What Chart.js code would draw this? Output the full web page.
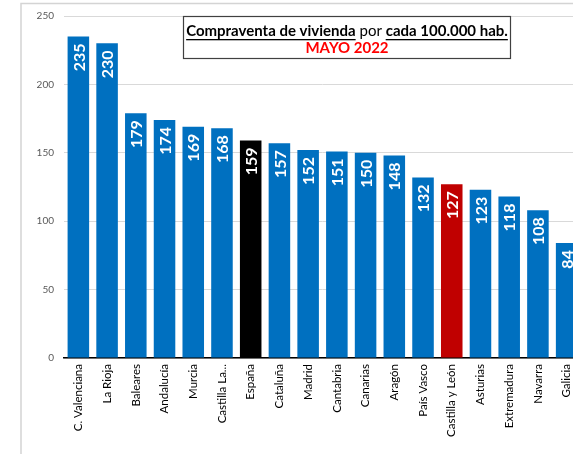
<!DOCTYPE html>
<html>
<head>
<meta charset="utf-8">
<script src="https://cdn.jsdelivr.net/npm/chart.js@4"></script>
<style>
  html, body { margin: 0; padding: 0; background: #fff; overflow: hidden; }
  #wrap { width: 573px; height: 454px; overflow: hidden; }
</style>
</head>
<body>
<div id="wrap"><canvas id="chart" width="590" height="454"></canvas></div>
<script>
// datos
const regiones = ['C. Valenciana', 'La Rioja', 'Baleares', 'Andalucía', 'Murcia', 'Castilla La...',
  'España', 'Cataluña', 'Madrid', 'Cantabria', 'Canarias', 'Aragón', 'País Vasco',
  'Castilla y León', 'Asturias', 'Extremadura', 'Navarra', 'Galicia'];
const valores = [235, 230, 179, 174, 169, 168, 159, 157, 152, 151, 150, 148, 132, 127, 123, 118, 108, 84];
const yTicks = [0, 50, 100, 150, 200, 250];

const colores = regiones.map(r => r === 'España' ? '#000000' : (r === 'Castilla y León' ? '#C00000' : '#0070C0'));

// marco, etiquetas y título
const extras = {
  id: 'extras',
  beforeDraw(chart) {
    const c = chart.ctx;
    c.save();
    c.strokeStyle = '#d4d4d4';
    c.lineWidth = 1.5;
    c.beginPath();
    c.moveTo(21, 454);
    c.lineTo(21, 3.5);
    c.lineTo(590, 3.5);
    c.stroke();
    c.restore();
  },
  afterDatasetsDraw(chart) {
    const c = chart.ctx;
    const meta = chart.getDatasetMeta(0);
    c.save();
    c.fillStyle = '#ffffff';
    c.font = 'bold 16px Lato';
    c.textAlign = 'right';
    c.textBaseline = 'middle';
    meta.data.forEach((bar, i) => {
      c.save();
      c.translate(bar.x + 1, bar.y + 7);
      c.rotate(-Math.PI / 2);
      c.fillText(String(valores[i]), 0, 0);
      c.restore();
    });
    c.restore();
  },
  afterDraw(chart) {
    const c = chart.ctx;
    c.save();
    c.fillStyle = '#ffffff';
    c.fillRect(183, 16, 328, 43);
    c.strokeStyle = '#404040';
    c.lineWidth = 1.2;
    c.strokeRect(183.5, 16.5, 327, 42);
    const parts = [
      { t: 'Compraventa de vivienda', bold: true, u: true },
      { t: ' por ', bold: false, u: false },
      { t: 'cada 100.000 hab.', bold: true, u: true }
    ];
    let total = 0;
    parts.forEach(p => {
      c.font = (p.bold ? 'bold ' : '') + '15px Lato';
      p.w = c.measureText(p.t).width;
      total += p.w;
    });
    let x = 347 - total / 2;
    const y = 31;
    c.textBaseline = 'middle';
    c.textAlign = 'left';
    c.fillStyle = '#000000';
    parts.forEach(p => {
      c.font = (p.bold ? 'bold ' : '') + '15px Lato';
      c.fillText(p.t, x, y);
      if (p.u) {
        c.fillRect(x, y + 8, p.w, 1.3);
      }
      x += p.w;
    });
    c.font = 'bold 15px Lato';
    c.fillStyle = '#FF0000';
    c.textAlign = 'center';
    c.fillText('MAYO 2022', 347, 48);
    c.restore();
  }
};

new Chart(document.getElementById('chart'), {
  type: 'bar',
  data: {
    labels: regiones,
    datasets: [{
      data: valores,
      backgroundColor: colores,
      categoryPercentage: 1,
      barPercentage: 0.75
    }]
  },
  options: {
    responsive: false,
    animation: false,
    layout: { padding: { left: 22, right: 9, top: 8, bottom: 0 } },
    plugins: { legend: { display: false }, tooltip: { enabled: false } },
    scales: {
      x: {
        grid: { display: false, drawTicks: false },
        border: { color: '#000000', width: 1.5 },
        ticks: {
          color: '#000000',
          font: { family: 'Lato', size: 11.5 },
          minRotation: 90,
          maxRotation: 90,
          autoSkip: false,
          padding: 6
        },
        afterFit(scale) { scale.height = 96; }
      },
      y: {
        min: 0,
        max: 250,
        afterBuildTicks(scale) { scale.ticks = yTicks.map(v => ({ value: v })); },
        grid: { color: '#d9d9d9', drawTicks: false },
        border: { display: false },
        ticks: {
          color: '#595959',
          font: { family: 'Lato', size: 10 },
          padding: 10
        },
        afterFit(scale) { scale.width = 42; }
      }
    }
  },
  plugins: [extras]
});
</script>
</body>
</html>
